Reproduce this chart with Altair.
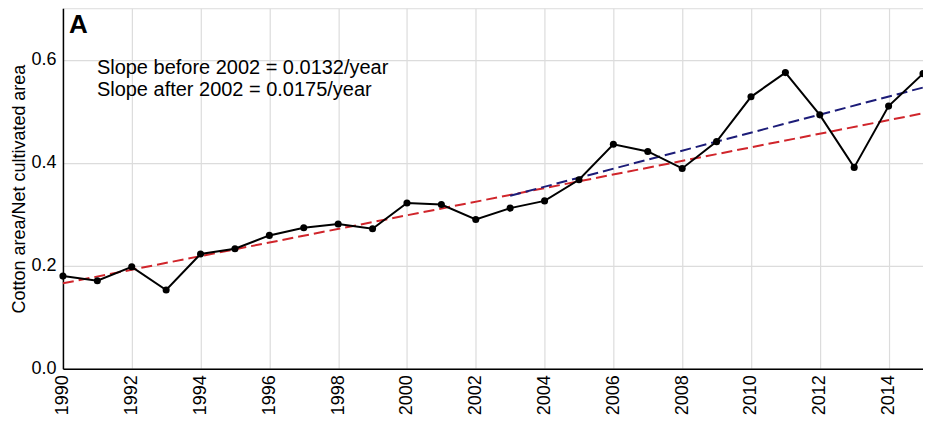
import altair as alt
import pandas as pd

years = list(range(1990, 2016))
ratio = [0.180, 0.171, 0.198, 0.153, 0.223, 0.233, 0.259, 0.274, 0.281, 0.272,
         0.322, 0.319, 0.290, 0.312, 0.326, 0.367, 0.436, 0.422, 0.389, 0.441,
         0.528, 0.575, 0.493, 0.391, 0.510, 0.573]

red_years = [1990, 2015]
red_values = [0.166, 0.496]
blue_years = [2003, 2015]
blue_values = [0.336, 0.546]

x_ticks = list(range(1990, 2015, 2))
y_ticks = [0.0, 0.2, 0.4, 0.6]

df = pd.DataFrame({"year": years, "ratio": ratio})
red_df = pd.DataFrame({"year": red_years, "ratio": red_values})
blue_df = pd.DataFrame({"year": blue_years, "ratio": blue_values})

FONT = "Liberation Sans"

xscale = alt.Scale(domain=[1990, 2015], nice=False, zero=False)
yscale = alt.Scale(domain=[0, 0.7], nice=False)

xaxis = alt.Axis(values=x_ticks, format="d", labelAngle=-90, labelAlign="right",
                 labelBaseline="middle", labelPadding=6, title=None, labelOverlap=False)
yaxis = alt.Axis(values=y_ticks, format=".1f", labelPadding=7,
                 title="Cotton area/Net cultivated area", titlePadding=2)

X = alt.X("year:Q", scale=xscale, axis=xaxis)
Y = alt.Y("ratio:Q", scale=yscale, axis=yaxis)

red = alt.Chart(red_df).mark_line(color="#d0252b", strokeWidth=2, strokeDash=[11, 5]).encode(x=X, y=Y)
blue = alt.Chart(blue_df).mark_line(color="#1c1c78", strokeWidth=2, strokeDash=[11, 5]).encode(x=X, y=Y)
line = alt.Chart(df).mark_line(color="black", strokeWidth=2).encode(x=X, y=Y)
pts = alt.Chart(df).mark_circle(color="black", size=50, opacity=1).encode(x=X, y=Y)

label_a = alt.Chart(pd.DataFrame({"t": ["A"]})).mark_text(
    font=FONT, fontSize=26, fontWeight="bold", align="left", baseline="middle", color="black"
).encode(x=alt.value(6), y=alt.value(17), text="t:N")

slope_txt = alt.Chart(pd.DataFrame({"t": ["Slope before 2002 = 0.0132/year", "Slope after 2002 = 0.0175/year"],
                                    "yy": [60, 82]})).mark_text(
    font=FONT, fontSize=20, align="left", baseline="middle", color="black"
).encode(x=alt.value(34), y=alt.Y("yy:Q", scale=None), text="t:N")

chart = alt.layer(red, blue, line, pts, label_a, slope_txt).properties(
    width=861, height=361,
    autosize=alt.AutoSizeParams(type="none"),
    padding={"left": 55, "top": 0, "right": 0, "bottom": 50},
).configure_view(stroke="black", strokeWidth=1.5).configure(background="white").configure_axis(
    labelFont=FONT, labelFontSize=18, labelColor="black", ticks=False,
    titleFont=FONT, titleFontSize=18, titleFontWeight="normal", titleColor="black",
    grid=True, gridColor="#dcdcdc", gridWidth=1.2, domainColor="black", domainWidth=1.5,
)

chart.save("out.html", embed_options={"renderer": "svg", "actions": False})
